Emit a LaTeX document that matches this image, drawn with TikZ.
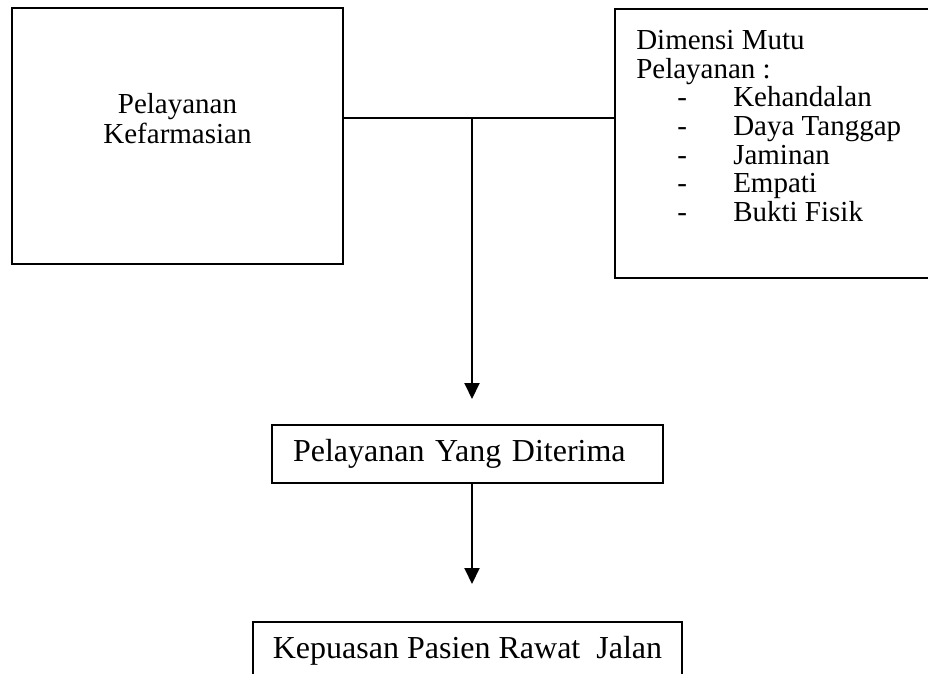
\documentclass[tikz,border=0pt]{standalone}
\usepackage{fontspec}
\setmainfont{Liberation Serif}
\usepackage{tikz}
\usetikzlibrary{arrows.meta,positioning,calc}

\newcommand{\mutuitem}[1]{\hspace*{30.75pt}\makebox[42pt][l]{-}#1}

\begin{document}
\begin{tikzpicture}[
  x=0.75pt, y=-0.75pt,
  box/.style={draw, line width=1.5pt, inner sep=0pt},
  bigtxt/.style={font=\fontsize{21.75}{22.5}\selectfont, inner sep=0pt},
  flow/.style={draw, line width=1.5pt, align=left, minimum height=43.5pt,
               inner ysep=0pt, font=\fontsize{24}{28}\selectfont},
  arr/.style={-{Triangle[width=11.25pt,length=12pt]}, line width=1.5pt}
]
\useasboundingbox (0,0) rectangle (928,674);

\node[box, minimum width=248.25pt, minimum height=192pt] (kefarbox) at (177.5,136) {};
\node[bigtxt, align=center] (kefar) at (177.5,119) {Pelayanan\\Kefarmasian};

\node[box, anchor=north west, minimum width=250pt, minimum height=201.75pt] (mutubox) at (614,8) {};
\node[bigtxt, align=left, anchor=north west, font=\fontsize{21.75}{21.5}\selectfont] (mutu) at (636,30)
  {Dimensi Mutu\\Pelayanan :\\\mutuitem{Kehandalan}\\\mutuitem{Daya Tanggap}\\
   \mutuitem{Jaminan}\\\mutuitem{Empati}\\\mutuitem{Bukti Fisik}};

\node[flow, text width=261.75pt, inner xsep=15.75pt] (terima) at (467.5,454) {Pelayanan Yang Diterima};
\node[flow, minimum width=321.75pt, inner xsep=0pt] (puas) at (467.5,651) {Kepuasan Pasien Rawat\ \ Jalan};

\coordinate (junc) at (472,118);

\draw[line width=1.5pt] (junc -| kefarbox.east) -- (junc -| mutubox.west);
\draw[arr, shorten >=18.75pt] (junc) -- (junc |- terima.north);
\draw[arr, shorten >=27.75pt] (junc |- terima.south) -- (junc |- puas.north);
\end{tikzpicture}
\end{document}
